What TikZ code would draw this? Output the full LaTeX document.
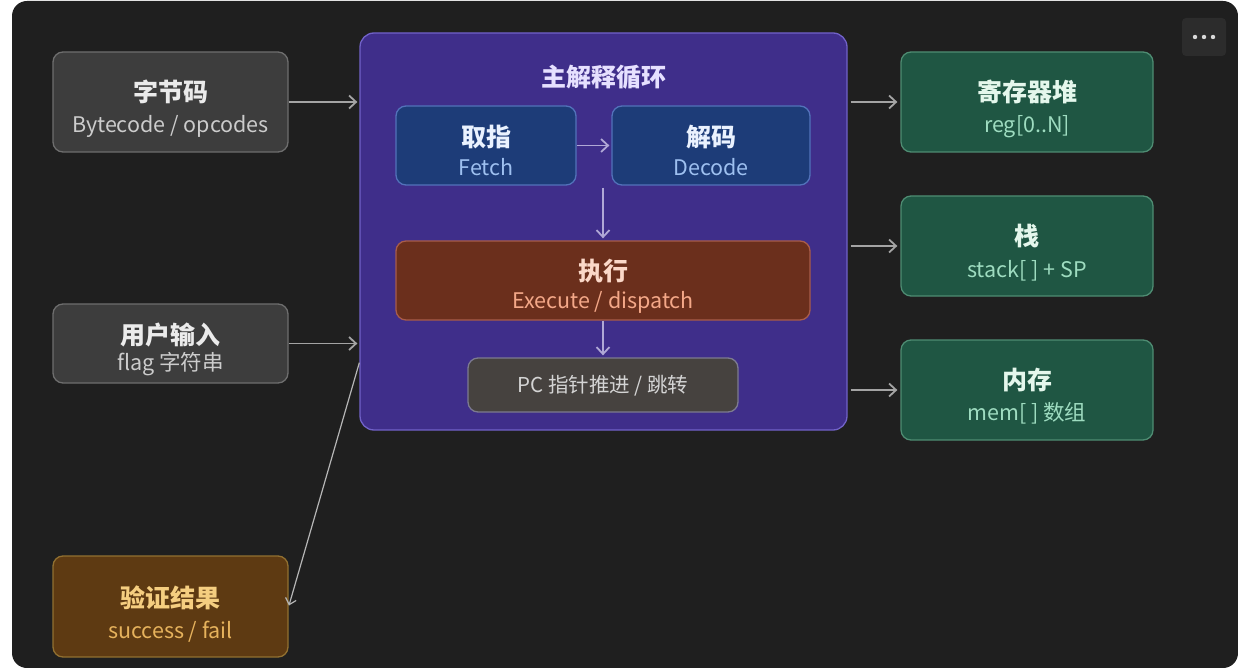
\documentclass[tikz,border=0pt]{standalone}
\usepackage{fontspec}
\setmainfont{Noto Sans CJK SC}
\usetikzlibrary{arrows.meta,calc}
\definecolor{bgdark}{HTML}{1F1F1F}
\definecolor{grayfill}{HTML}{3D3D3D}
\definecolor{grayline}{HTML}{6E6E6E}
\definecolor{purfill}{HTML}{3F2E8A}
\definecolor{purline}{HTML}{7162C8}
\definecolor{bluefill}{HTML}{1D3C78}
\definecolor{blueline}{HTML}{5272BA}
\definecolor{exfill}{HTML}{6B2F1C}
\definecolor{exline}{HTML}{A85C4A}
\definecolor{pcfill}{HTML}{46423F}
\definecolor{pcline}{HTML}{7C7A90}
\definecolor{grfill}{HTML}{1F5643}
\definecolor{grline}{HTML}{4E8C72}
\definecolor{brfill}{HTML}{5E3A12}
\definecolor{brline}{HTML}{917030}
\definecolor{arrgray}{HTML}{A4A4A4}
\definecolor{arrpur}{HTML}{B0A8D6}
\definecolor{brtitle}{HTML}{F5CE80}
\definecolor{brsub}{HTML}{E6B25C}
\definecolor{purtitle}{HTML}{E6E0FF}
\definecolor{bltitle}{HTML}{EAF2FF}
\definecolor{blsub}{HTML}{9EC0F0}
\definecolor{extitle}{HTML}{FBD8C8}
\definecolor{exsub}{HTML}{F4A888}
\definecolor{grtitle}{HTML}{E4F7EC}
\definecolor{grsub}{HTML}{9EDCC0}
\tikzset{
  box/.style={rectangle, rounded corners=10, line width=1.3, inner sep=0},
  graybox/.style={box, fill=grayfill, draw=grayline},
  purbox/.style={box, fill=purfill, draw=purline, rounded corners=14},
  bluebox/.style={box, fill=bluefill, draw=blueline},
  exbox/.style={box, fill=exfill, draw=exline},
  pcbox/.style={box, fill=pcfill, draw=pcline},
  grbox/.style={box, fill=grfill, draw=grline},
  brbox/.style={box, fill=brfill, draw=brline},
  ttl/.style={font=\fontsize{25}{28}\selectfont\bfseries, inner sep=0},
  sub/.style={font=\fontsize{21.5}{24}\selectfont, inner sep=0},
  arr/.style={draw=arrgray, line width=1.8, -{Straight Barb[length=7,width=13]}},
  arrin/.style={draw=arrpur, line width=1.8, -{Straight Barb[length=7,width=13]}},
  thinarr/.style={draw=arrgray!80, line width=1.2, -{Straight Barb[length=6,width=11]}}
}
\begin{document}
\begin{tikzpicture}[x=1pt,y=-1pt]
\useasboundingbox (0,0) rectangle (1238,668);
\fill[white] (0,0) rectangle (1238,668);
\fill[bgdark, rounded corners=15] (12,1) rectangle (1238,668);

% dots button
\node[fill=white!6!bgdark, rounded corners=4, minimum width=44, minimum height=38, inner sep=0] (menu) at (1204,37) {};
\foreach \dx in {-9,0,9}
  \fill[white!85!black] ($(menu.center)+(\dx,0)$) circle (2.2);

% left boxes
\node[graybox, minimum width=235, minimum height=100] (bc) at (170.5,102) {};
\node[ttl, text=white!92!black] (bct) at ($(bc.north)+(0,41)$) {字节码};
\node[sub, text=white!80!black] (bcs) at ($(bc.north)+(0,75)$) {Bytecode / opcodes};

\node[graybox, minimum width=235, minimum height=79] (ui) at (170.5,343.5) {};
\node[ttl, text=white!92!black] (uit) at ($(ui.north)+(0,32)$) {用户输入};
\node[sub, text=white!80!black] (uis) at ($(ui.north)+(0,61)$) {flag 字符串};

\node[brbox, minimum width=235, minimum height=101] (vr) at (170.5,606.5) {};
\node[ttl, text=brtitle] (vrt) at ($(vr.north)+(0,42)$) {验证结果};
\node[sub, text=brsub] (vrs) at ($(vr.north)+(0,76)$) {success / fail};

% main loop
\node[purbox, minimum width=487, minimum height=397] (main) at (603.5,231.5) {};
\node[font=\fontsize{25}{28}\selectfont\bfseries, text=purtitle, inner sep=0] (mt) at ($(main.north)+(0,45)$) {主解释循环};

\node[bluebox, minimum width=180, minimum height=79] (fetch) at (486,145.5) {};
\node[ttl, text=bltitle] (fetcht) at ($(fetch.north)+(0,32)$) {取指};
\node[sub, text=blsub] (fetchs) at ($(fetch.north)+(0,62)$) {Fetch};

\node[bluebox, minimum width=198, minimum height=79] (decode) at (711,145.5) {};
\node[ttl, text=bltitle] (decodet) at ($(decode.north)+(0,32)$) {解码};
\node[sub, text=blsub] (decodes) at ($(decode.north)+(0,62)$) {Decode};

\node[exbox, minimum width=414, minimum height=79] (exec) at (603,280.5) {};
\node[ttl, text=extitle] (exect) at ($(exec.north)+(0,31)$) {执行};
\node[sub, text=exsub] (execs) at ($(exec.north)+(0,62)$) {Execute / dispatch};

\node[pcbox, minimum width=270, minimum height=54] (pc) at (603,385) {};
\node[font=\fontsize{20.5}{23}\selectfont, text=white!83!black, inner sep=0] (pct) at ($(pc.center)+(0,1)$) {PC 指针推进 / 跳转};

% right boxes
\node[grbox, minimum width=252, minimum height=100] (reg) at (1027,102) {};
\node[ttl, text=grtitle] (regt) at ($(reg.north)+(0,41)$) {寄存器堆};
\node[sub, text=grsub] (regs) at ($(reg.north)+(0,75)$) {reg[0..N]};

\node[grbox, minimum width=252, minimum height=100] (stack) at (1027,246) {};
\node[ttl, text=grtitle] (stackt) at ($(stack.north)+(0,41)$) {栈};
\node[sub, text=grsub] (stacks) at ($(stack.north)+(0,75)$) {stack[ ] + SP};

\node[grbox, minimum width=252, minimum height=100] (mem) at (1027,390) {};
\node[ttl, text=grtitle] (memt) at ($(mem.north)+(0,41)$) {内存};
\node[sub, text=grsub] (mems) at ($(mem.north)+(0,74)$) {mem[ ] 数组};

% connectors
\draw[arr, shorten >=2] (bc.east) -- (bc.east -| main.west);
\draw[arr, shorten >=2] (ui.east) -- (ui.east -| main.west);
\coordinate (mvs) at ($(main.south west)+(0,-68)$);
\draw[thinarr, shorten >=1] (mvs) -- (vr.east);
\draw[arrin, shorten >=2] (fetch.east) -- (decode.west);
\draw[arrin, shorten <=2, shorten >=2] (exec.north |- decode.south) -- (exec.north);
\draw[arrin, shorten >=2] (exec.south) -- (pc.north);
\draw[arr, shorten <=3, shorten >=3] (main.east |- reg.west) -- (reg.west);
\draw[arr, shorten <=3, shorten >=3] (main.east |- stack.west) -- (stack.west);
\draw[arr, shorten <=3, shorten >=3] (main.east |- mem.west) -- (mem.west);
\end{tikzpicture}
\end{document}
